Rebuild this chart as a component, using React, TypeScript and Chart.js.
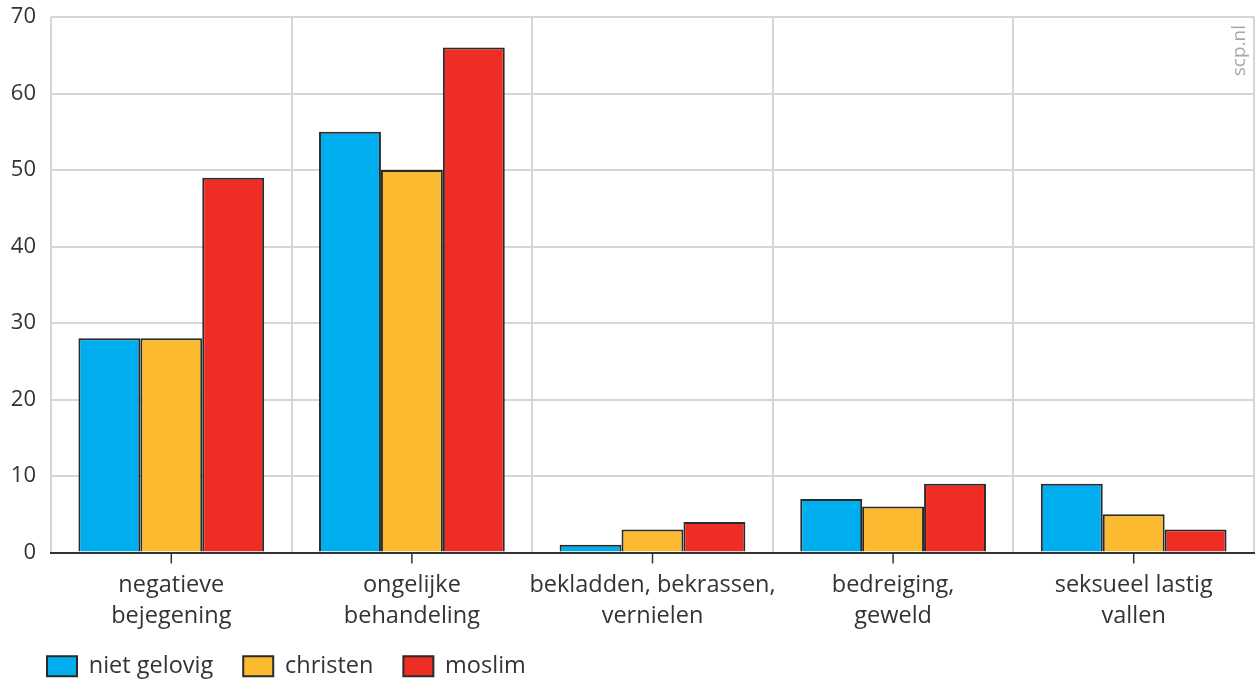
import React, { useEffect, useRef } from "react";
import { Chart, registerables } from "chart.js";

Chart.register(...registerables);

const categories: string[][] = [
  ["negatieve", "bejegening"],
  ["ongelijke", "behandeling"],
  ["bekladden, bekrassen,", "vernielen"],
  ["bedreiging,", "geweld"],
  ["seksueel lastig", "vallen"],
];
const nietGelovig = [28, 55, 1, 7, 9];
const christen = [28, 50, 3, 6, 5];
const moslim = [49, 66, 4, 9, 3];
const yTicks = [0, 10, 20, 30, 40, 50, 60, 70];

const FONT = "'Open Sans', 'Noto Sans', sans-serif";
const TEXT = "#333333";

const extras = {
  id: "extras",
  afterLayout(chart: any) {
    const lg = chart.legend;
    if (lg) {
      lg.left += 17;
      lg.right += 17;
      lg.top -= 20;
      lg.bottom -= 20;
    }
  },
  afterDatasetsDraw(chart: any) {
    const ctx = chart.ctx;
    const xs = chart.scales.x;
    const bottom = chart.chartArea.bottom;
    ctx.save();
    ctx.strokeStyle = TEXT;
    ctx.lineWidth = 1.5;
    for (let i = 0; i < categories.length; i++) {
      const x = xs.getPixelForValue(i);
      ctx.beginPath();
      ctx.moveTo(x, bottom);
      ctx.lineTo(x, bottom + 11);
      ctx.stroke();
    }
    // watermark
    ctx.translate(chart.chartArea.right - 14, chart.chartArea.top + 8);
    ctx.rotate(-Math.PI / 2);
    ctx.fillStyle = "#a8a8a8";
    ctx.font = `19px ${FONT}`;
    ctx.textAlign = "right";
    ctx.textBaseline = "middle";
    ctx.fillText("scp.nl", 0, 0);
    ctx.restore();
  },
};

export default function App() {
  const ref = useRef<HTMLCanvasElement>(null);
  useEffect(() => {
    document.body.style.margin = "0";
    const common = {
      borderColor: "#2a2a2a",
      borderWidth: 2,
      categoryPercentage: 0.772,
      barPercentage: 1,
    };
    const chart = new Chart(ref.current!, {
      type: "bar",
      data: {
        labels: categories,
        datasets: [
          { label: "niet gelovig", data: nietGelovig, backgroundColor: "#00AEEF", ...common },
          { label: "christen", data: christen, backgroundColor: "#FBBA30", ...common },
          { label: "moslim", data: moslim, backgroundColor: "#EE2E24", ...common },
        ],
      },
      options: {
        animation: false,
        responsive: false,
        maintainAspectRatio: false,
        layout: { padding: { left: 0, right: 1, top: 17, bottom: -29 } },
        plugins: {
          tooltip: { enabled: false },
          legend: {
            position: "bottom",
            align: "start",
            labels: {
              boxWidth: 30,
              boxHeight: 20,
              padding: 30,
              color: TEXT,
              font: { family: FONT, size: 23.5 },
            },
          },
        },
        scales: {
          x: {
            grid: { offset: true, color: "#d6d6d6", lineWidth: 2, drawTicks: false },
            border: { color: "#333333", width: 2 },
            ticks: {
              color: TEXT,
              padding: 17,
              maxRotation: 0,
              autoSkip: false,
              font: { family: FONT, size: 23.5, lineHeight: 1.33 },
            },
            afterFit: (s: any) => {
              s.height = 92;
            },
          },
          y: {
            min: 0,
            max: 70,
            afterBuildTicks: (s: any) => {
              s.ticks = yTicks.map((v) => ({ value: v }));
            },
            grid: { color: "#d6d6d6", lineWidth: 2, drawTicks: false },
            border: { display: false },
            ticks: {
              color: TEXT,
              padding: 15,
              font: { family: FONT, size: 22 },
            },
            afterFit: (s: any) => {
              s.width = 51;
              s.paddingTop = 0;
              s.paddingBottom = 0;
            },
          },
        },
      },
      plugins: [extras],
    });
    return () => chart.destroy();
  }, []);
  return (
    <div style={{ position: "fixed", left: 0, top: 0, width: 1255, height: 679 }}>
      <canvas ref={ref} width={1255} height={679} style={{ width: 1255, height: 679 }} />
    </div>
  );
}
